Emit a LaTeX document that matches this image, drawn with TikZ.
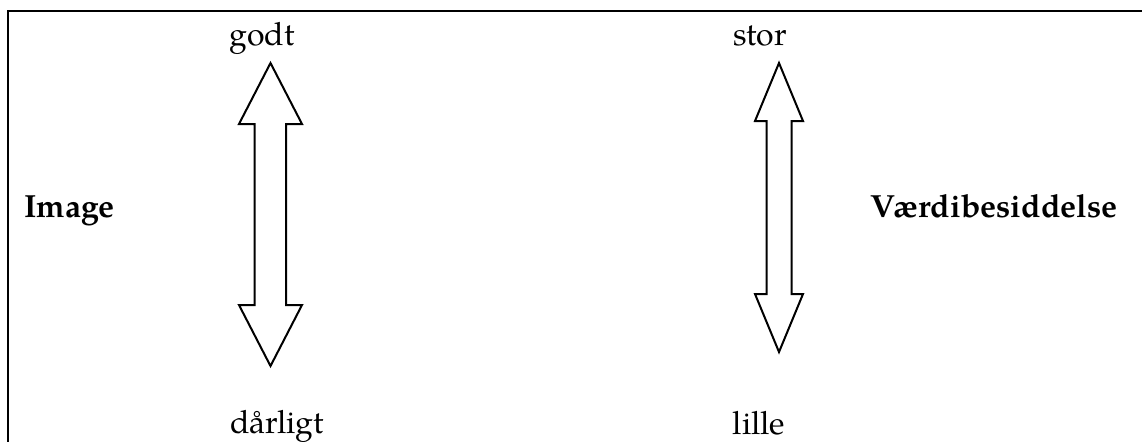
\documentclass[tikz,border=0pt]{standalone}
\usepackage{fontspec}
\setmainfont{TeX Gyre Pagella}
\begin{document}
\begin{tikzpicture}[x=0.375pt,y=-0.375pt,
  lbl/.style={inner sep=0pt,font=\fontsize{12pt}{14pt}\selectfont},
  ttl/.style={inner sep=0pt,font=\fontsize{12pt}{14pt}\selectfont\bfseries},
  bigarrow/.style={draw=black,line width=0.75pt,line join=miter,fill=white},
  frameline/.style={line width=0.95pt}]
\useasboundingbox (0,0) rectangle (1142,441);
\draw[frameline] (8,470) -- (8,11) -- (1170,11);
% left double arrow
\draw[bigarrow] (270.5,63) -- (302,124) -- (286,124) -- (286,305) -- (302,305)
  -- (270.5,366) -- (239,305) -- (254.5,305) -- (254.5,124) -- (239,124) -- cycle;
% right double arrow
\draw[bigarrow] (779,63) -- (803,121) -- (791.5,121) -- (791.5,294) -- (803,294)
  -- (779,352) -- (755,294) -- (766.5,294) -- (766.5,121) -- (755,121) -- cycle;
\node[lbl,anchor=base] (godt) at (262,45) {godt};
\node[lbl,anchor=base] (darligt) at (277,433) {dårligt};
\node[lbl,anchor=base] (stor) at (760,45) {stor};
\node[lbl,anchor=base] (lille) at (759,434) {lille};
\node[ttl,anchor=base west] (image) at (24,217) {Image};
\node[ttl,anchor=base west] (vaerdi) at (870,217) {Værdibesiddelse};
\end{tikzpicture}
\end{document}
